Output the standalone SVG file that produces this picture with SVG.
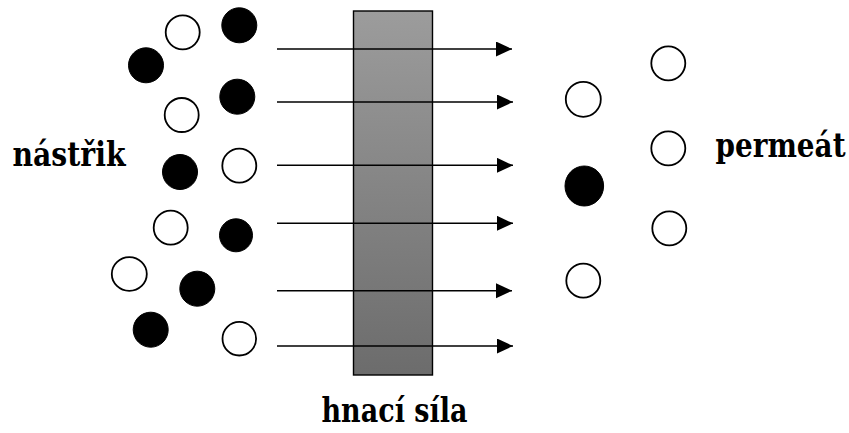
<svg xmlns="http://www.w3.org/2000/svg" width="849" height="433" viewBox="0 0 849 433">
  <style>
    .open { fill: #fff; stroke: #000; stroke-width: 1.8; }
    .solid { fill: #000; stroke: #000; stroke-width: 1; }
    .flow { stroke: #000; stroke-width: 1.6; fill: none; marker-end: url(#head); }
    .label { font-size: 33px; fill: #000; }
  </style>
  <defs>
    <linearGradient id="membraneFill" x1="0" y1="0" x2="0" y2="1">
      <stop offset="0" stop-color="#9c9c9c"/>
      <stop offset="1" stop-color="#6c6c6c"/>
    </linearGradient>
    <marker id="head" markerUnits="userSpaceOnUse" markerWidth="18" markerHeight="16" refX="16" refY="7.5" orient="auto">
      <polygon points="0,0 16,7.5 0,15" fill="#000"/>
    </marker>
  </defs>

  <!-- membrane -->
  <g id="membrane">
    <rect x="353.5" y="11" width="79" height="364" fill="url(#membraneFill)" stroke="#000" stroke-width="1.4"/>
  </g>

  <!-- feed side particles -->
  <g id="feed">
    <circle class="open" cx="182.7" cy="32.3" r="17"/>
    <circle class="solid" cx="239.3" cy="25.3" r="17.5"/>
    <circle class="solid" cx="146" cy="65.3" r="17.5"/>
    <circle class="open" cx="181.7" cy="115" r="17"/>
    <circle class="solid" cx="237.3" cy="96.7" r="17.5"/>
    <circle class="solid" cx="180" cy="172" r="17.5"/>
    <circle class="open" cx="239.3" cy="165.7" r="17"/>
    <circle class="open" cx="170.7" cy="227.7" r="17"/>
    <circle class="solid" cx="236" cy="235.3" r="16.5"/>
    <ellipse class="open" cx="129.3" cy="274" rx="17.5" ry="16.8"/>
    <circle class="solid" cx="197.3" cy="288.7" r="17.5"/>
    <circle class="solid" cx="150.7" cy="329.7" r="17.5"/>
    <circle class="open" cx="239.3" cy="338.7" r="16.8"/>
  </g>

  <!-- permeate side particles -->
  <g id="permeate">
    <circle class="open" cx="668.3" cy="63.3" r="17"/>
    <circle class="open" cx="583.3" cy="99.3" r="17.5"/>
    <circle class="open" cx="668.3" cy="148.3" r="17"/>
    <ellipse class="solid" cx="584.3" cy="186" rx="19.3" ry="20"/>
    <circle class="open" cx="669.3" cy="228.3" r="17"/>
    <circle class="open" cx="583.3" cy="280.7" r="17"/>
  </g>

  <!-- flow arrows through the membrane -->
  <g id="connectors">
    <line class="flow" x1="277" y1="49" x2="512" y2="49" stroke="#3a3a3a"/>
    <line class="flow" x1="277" y1="102" x2="513" y2="102"/>
    <line class="flow" x1="277" y1="165.3" x2="513" y2="165.3"/>
    <line class="flow" x1="277" y1="223.3" x2="513" y2="223.3"/>
    <line class="flow" x1="277" y1="290.7" x2="512" y2="290.7"/>
    <line class="flow" x1="277" y1="346" x2="513" y2="346"/>
  </g>

  <!-- labels -->
  <g id="label-feed"><text class="label" font-family="'DejaVu Serif', serif" font-weight="bold" x="12.5" y="166" textLength="113" lengthAdjust="spacingAndGlyphs">nástřik</text></g>
  <g id="label-permeate"><text class="label" font-family="'DejaVu Serif', serif" font-weight="bold" x="715.5" y="157" textLength="130" lengthAdjust="spacingAndGlyphs">permeát</text></g>
  <g id="label-force"><text class="label" font-family="'DejaVu Serif', serif" font-weight="bold" x="321.5" y="421.5" textLength="146" lengthAdjust="spacingAndGlyphs">hnací síla</text></g>
</svg>
